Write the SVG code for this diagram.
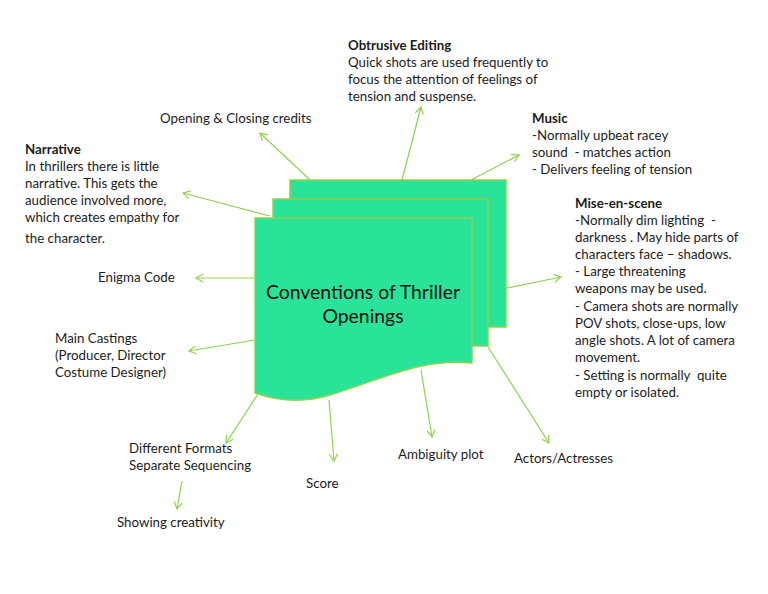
<svg xmlns="http://www.w3.org/2000/svg" width="768" height="594" viewBox="0 0 768 594">
<defs>
<marker id="arr" markerWidth="10" markerHeight="10" refX="8" refY="5" orient="auto" markerUnits="userSpaceOnUse">
<path d="M1,1 L8,5 L1,9" fill="none" stroke="#8fd14f" stroke-width="1.2"/>
</marker>
<style>
.t{font-family:Lato,"Open Sans",sans-serif;font-size:13.3px;fill:#1c1c1c}
.b{font-weight:bold}
.c{stroke:#8fd14f;stroke-width:1.2;fill:none;marker-end:url(#arr)}
.sh{fill:#29e398;stroke:#92d050;stroke-width:1.5}
.title{font-family:Lato,"Open Sans",sans-serif;font-size:19.4px;fill:#111;text-anchor:middle}
</style>
</defs>
<rect width="768" height="594" fill="#fff"/>
<g id="connectors">
<line class="c" x1="310" y1="180" x2="260" y2="133"/>
<line class="c" x1="270" y1="216" x2="183" y2="193"/>
<line class="c" x1="255" y1="278" x2="196" y2="278"/>
<line class="c" x1="402" y1="180" x2="421" y2="107"/>
<line class="c" x1="471" y1="180" x2="519" y2="155"/>
<line class="c" x1="507" y1="288" x2="561" y2="277"/>
<line class="c" x1="255" y1="340" x2="189" y2="351"/>
<line class="c" x1="258" y1="394" x2="226" y2="443"/>
<line class="c" x1="329" y1="400" x2="334" y2="461"/>
<line class="c" x1="182" y1="481" x2="177" y2="509"/>
<line class="c" x1="421" y1="370" x2="432" y2="437"/>
<line class="c" x1="488" y1="347" x2="549" y2="443"/>
</g>
<g id="center">
<rect class="sh" x="290" y="180" width="216" height="147"/>
<rect class="sh" x="273" y="199" width="215" height="147"/>
<path class="sh" d="M255,218 L472,218 L472,363 C420,358 380,380 330,395 C300,404 275,400 255,393 Z"/>
<text class="title" x="363" y="299">Conventions of Thriller</text>
<text class="title" x="363" y="323">Openings</text>
</g>
<g id="obtrusive-editing">
<text class="t b" x="348" y="50">Obtrusive Editing</text>
<text class="t" x="348" y="67">Quick shots are used frequently to</text>
<text class="t" x="348" y="84">focus the attention of feelings of</text>
<text class="t" x="348" y="101">tension and suspense.</text>
</g>
<g id="opening-credits">
<text class="t" x="160" y="123">Opening &amp; Closing credits</text>
</g>
<g id="narrative">
<text class="t b" x="25" y="154">Narrative</text>
<text class="t" x="25" y="171">In thrillers there is little</text>
<text class="t" x="25" y="188">narrative. This gets the</text>
<text class="t" x="25" y="205">audience involved more,</text>
<text class="t" x="25" y="222">which creates empathy for</text>
<text class="t" x="25" y="243">the character.</text>
</g>
<g id="enigma">
<text class="t" x="98" y="282">Enigma Code</text>
</g>
<g id="music">
<text class="t b" x="532" y="123">Music</text>
<text class="t" x="532" y="140">-Normally upbeat racey</text>
<text class="t" x="532" y="157" xml:space="preserve">sound  - matches action</text>
<text class="t" x="532" y="174">- Delivers feeling of tension</text>
</g>
<g id="mise-en-scene">
<text class="t b" x="575" y="208">Mise-en-scene</text>
<text class="t" x="575" y="225" xml:space="preserve">-Normally dim lighting  -</text>
<text class="t" x="575" y="242">darkness . May hide parts of</text>
<text class="t" x="575" y="259">characters face – shadows.</text>
<text class="t" x="575" y="276">- Large threatening</text>
<text class="t" x="575" y="293">weapons may be used.</text>
<text class="t" x="575" y="311">- Camera shots are normally</text>
<text class="t" x="575" y="328">POV shots, close-ups, low</text>
<text class="t" x="575" y="345">angle shots. A lot of camera</text>
<text class="t" x="575" y="362">movement.</text>
<text class="t" x="575" y="380" xml:space="preserve">- Setting is normally  quite</text>
<text class="t" x="575" y="397">empty or isolated.</text>
</g>
<g id="main-castings">
<text class="t" x="55" y="343">Main Castings</text>
<text class="t" x="55" y="360">(Producer, Director</text>
<text class="t" x="55" y="377">Costume Designer)</text>
</g>
<g id="different-formats">
<text class="t" x="129" y="453">Different Formats</text>
<text class="t" x="129" y="470">Separate Sequencing</text>
</g>
<g id="score">
<text class="t" x="306" y="488">Score</text>
</g>
<g id="showing-creativity">
<text class="t" x="117" y="527">Showing creativity</text>
</g>
<g id="ambiguity">
<text class="t" x="398" y="459">Ambiguity plot</text>
</g>
<g id="actors">
<text class="t" x="514" y="463">Actors/Actresses</text>
</g>
</svg>
